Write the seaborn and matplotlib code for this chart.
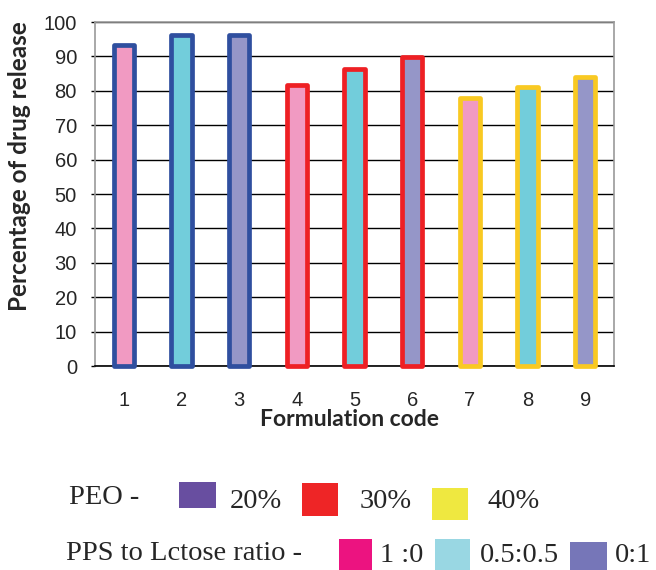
import matplotlib
matplotlib.use("Agg")
import matplotlib.pyplot as plt
import seaborn as sns
import pandas as pd
from matplotlib.patches import Rectangle

# ---- data ----
codes = ["1", "2", "3", "4", "5", "6", "7", "8", "9"]
release = [93.4, 96.1, 96.1, 81.8, 86.2, 89.8, 77.9, 81.0, 84.1]
peo = ["20%", "20%", "20%", "30%", "30%", "30%", "40%", "40%", "40%"]
ratio = ["1 :0", "0.5:0.5", "0:1", "1 :0", "0.5:0.5", "0:1", "1 :0", "0.5:0.5", "0:1"]
yticks = [0, 10, 20, 30, 40, 50, 60, 70, 80, 90, 100]

fill_map = {"1 :0": "#f19ac2", "0.5:0.5": "#72cddb", "0:1": "#9596c8"}
edge_map = {"20%": "#2f4f9f", "30%": "#ee2024", "40%": "#f9c922"}

peo_levels = ["20%", "30%", "40%"]
peo_legend_colors = ["#684ea0", "#ee2526", "#efe840"]
ratio_levels = ["1 :0", "0.5:0.5", "0:1"]
ratio_legend_colors = ["#ec1380", "#99d7e3", "#7676b8"]

df = pd.DataFrame({"code": codes, "release": release, "peo": peo, "ratio": ratio})

sns.set_style("white")
plt.rcParams["font.family"] = ["Liberation Sans", "DejaVu Sans"]

fig = plt.figure(figsize=(6.56, 5.70), dpi=100)
ax = fig.add_axes([95 / 656, 1 - 366 / 570, (614 - 95) / 656, (366 - 22) / 570])

fills = [fill_map[r] for r in ratio]
sns.barplot(data=df, x="code", y="release", hue="code", palette=fills,
            legend=False, width=0.355, ax=ax, saturation=1)

for patch, p in zip(ax.patches, peo):
    patch.set_edgecolor(edge_map[p])
    patch.set_linewidth(3.4)
    patch.set_joinstyle("round")
    patch.set_clip_on(False)
    patch.set_zorder(3)

ax.set_xlim(-0.5, 8.5)
ax.set_ylim(0, 100)
ax.set_yticks(yticks)
ax.yaxis.grid(True, color="black", lw=1)
ax.set_axisbelow(True)

for s in ["left", "top", "right"]:
    ax.spines[s].set_color("#999999")
    ax.spines[s].set_linewidth(1.2)
ax.spines["bottom"].set_color("black")
ax.spines["bottom"].set_linewidth(1.2)

ax.tick_params(axis="y", length=3, width=1, color="black", direction="out",
               labelsize=14.5, pad=10, left=True)
ax.tick_params(axis="x", length=0, labelsize=14.5, pad=18)

ax.set_xlabel("")
ax.set_ylabel("")

fig.text(349 / 656, 1 - 419 / 570, "Formulation code", family=["Lato", "DejaVu Sans"],
         fontweight="bold", fontsize=16.5, ha="center", va="center")
fig.text(20 / 656, 1 - 166 / 570, "Percentage of drug release", family=["Lato", "DejaVu Sans"],
         fontweight="bold", fontsize=17.5, ha="center", va="center", rotation=90)

# ---- legend (custom, below) ----
serif = ["Liberation Serif", "DejaVu Serif"]
def ftxt(x, y, s):
    fig.text(x / 656, 1 - y / 570, s, family=serif, fontsize=20.5, ha="left", va="center")

def fbox(x0, y0, x1, y1, c):
    fig.patches.append(Rectangle((x0 / 656, 1 - y1 / 570), (x1 - x0) / 656, (y1 - y0) / 570,
                                 transform=fig.transFigure, facecolor=c, edgecolor="none"))

ftxt(69, 497, "PEO -")
peo_boxes = [(179, 482, 216, 508), (302, 483, 338, 516), (432, 488, 468, 520)]
peo_text_x = [230, 360, 487]
for lvl, c, b, tx in zip(peo_levels, peo_legend_colors, peo_boxes, peo_text_x):
    fbox(*b, c)
    ftxt(tx, 502, lvl)

ftxt(66, 553, "PPS to Lctose ratio -")
ratio_boxes = [(339, 539, 372, 570), (435, 539, 470, 570), (570, 542, 607, 570)]
ratio_text_x = [380, 480, 615]
for lvl, c, b, tx in zip(ratio_levels, ratio_legend_colors, ratio_boxes, ratio_text_x):
    fbox(*b, c)
    ftxt(tx, 556, lvl)

fig.savefig("out.png", dpi=100)
